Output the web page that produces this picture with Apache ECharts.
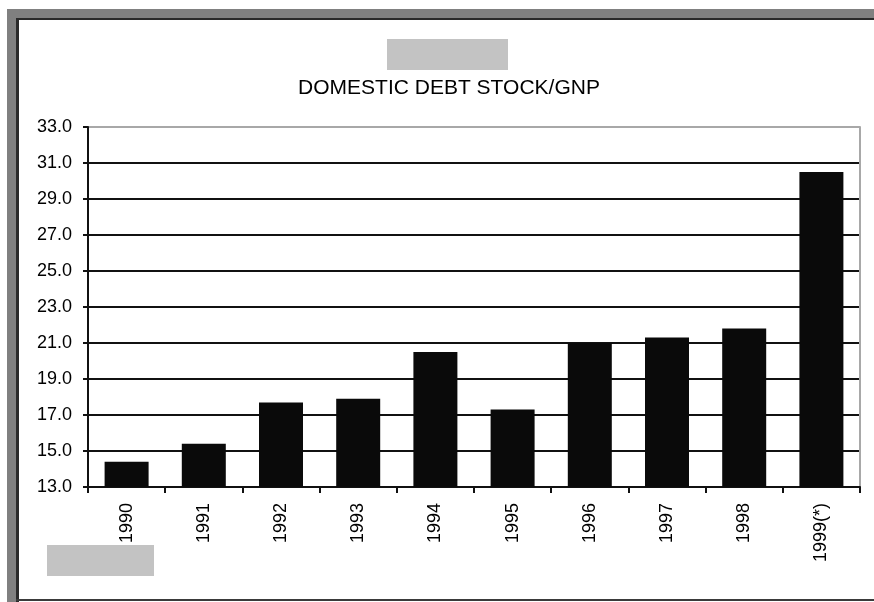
<!DOCTYPE html>
<html>
<head>
<meta charset="utf-8">
<script src="https://cdn.jsdelivr.net/npm/echarts@6/dist/echarts.min.js"></script>
<style>
  html, body { margin: 0; padding: 0; background: #ffffff; }
  #chart { width: 874px; height: 602px; }
</style>
</head>
<body>
<div id="chart"></div>
<script>
// Domestic debt stock as a share of GNP, by year
const categories = ['1990', '1991', '1992', '1993', '1994', '1995', '1996', '1997', '1998', '1999(*)'];
const debtToGnp = [14.4, 15.4, 17.7, 17.9, 20.5, 17.3, 21.0, 21.3, 21.8, 30.5];
const yMin = 13;
const yMax = 33;
const yStep = 2;
const titleText = 'DOMESTIC DEBT STOCK/GNP';

const FONT = '"Liberation Sans", Arial, sans-serif';

// horizontal rules: black inside the plot, the top one grey like the frame
const lineCount = (yMax - yMin) / yStep + 1;
const ruleColors = [];
for (let i = 0; i < lineCount; i++) {
  ruleColors.push(i === lineCount - 1 ? '#a8a8a8' : '#111111');
}

const chart = echarts.init(document.getElementById('chart'), null, { renderer: 'canvas' });

chart.setOption({
  backgroundColor: '#ffffff',
  animation: false,
  title: {
    text: titleText,
    left: 444,
    top: 73,
    textAlign: 'center',
    textStyle: { fontFamily: FONT, fontSize: 21, fontWeight: 'normal', color: '#000' }
  },
  grid: { left: 88, top: 127, width: 772, height: 360, containLabel: false },
  xAxis: {
    type: 'category',
    data: categories,
    boundaryGap: true,
    axisLine: { show: true, lineStyle: { color: '#111', width: 2 } },
    axisTick: { show: true, length: 6, lineStyle: { color: '#111', width: 2 } },
    axisLabel: {
      rotate: 90,
      margin: 16,
      interval: 0,
      fontFamily: FONT,
      fontSize: 18,
      color: '#000'
    },
    splitLine: { show: false }
  },
  yAxis: [
    {
      type: 'value',
      min: yMin,
      max: yMax,
      interval: yStep,
      axisLine: { show: true, lineStyle: { color: '#111', width: 2 } },
      axisTick: { show: true, length: 5, lineStyle: { color: '#111', width: 2 } },
      axisLabel: {
        margin: 16,
        fontFamily: FONT,
        fontSize: 18,
        color: '#000',
        formatter: v => v.toFixed(1)
      },
      splitLine: { show: true, lineStyle: { color: ruleColors, width: 2 } }
    },
    {
      type: 'value',
      position: 'right',
      min: yMin,
      max: yMax,
      interval: yStep,
      axisLine: { show: true, lineStyle: { color: '#a8a8a8', width: 2 } },
      axisTick: { show: false },
      axisLabel: { show: false },
      splitLine: { show: false }
    }
  ],
  series: [
    {
      type: 'bar',
      data: debtToGnp,
      yAxisIndex: 0,
      barWidth: 44,
      itemStyle: { color: '#0a0a0a' },
      z: 3
    }
  ],
  graphic: [
    // window frame: grey band with a dark inner edge
    { type: 'rect', z: 100, shape: { x: 7, y: 9, width: 867, height: 9 }, style: { fill: '#808080' } },
    { type: 'rect', z: 100, shape: { x: 7, y: 9, width: 9, height: 593 }, style: { fill: '#808080' } },
    { type: 'rect', z: 101, shape: { x: 16, y: 18, width: 858, height: 2 }, style: { fill: '#2a2a2a' } },
    { type: 'rect', z: 101, shape: { x: 16, y: 18, width: 3, height: 584 }, style: { fill: '#2a2a2a' } },
    { type: 'rect', z: 101, shape: { x: 16, y: 599, width: 858, height: 2 }, style: { fill: '#3a3a3a' } },
    // blanked-out text blocks
    { type: 'rect', z: 102, shape: { x: 387, y: 39, width: 121, height: 31 }, style: { fill: '#c3c3c3' } },
    { type: 'rect', z: 102, shape: { x: 47, y: 545, width: 107, height: 31 }, style: { fill: '#c3c3c3' } }
  ]
});
</script>
</body>
</html>
